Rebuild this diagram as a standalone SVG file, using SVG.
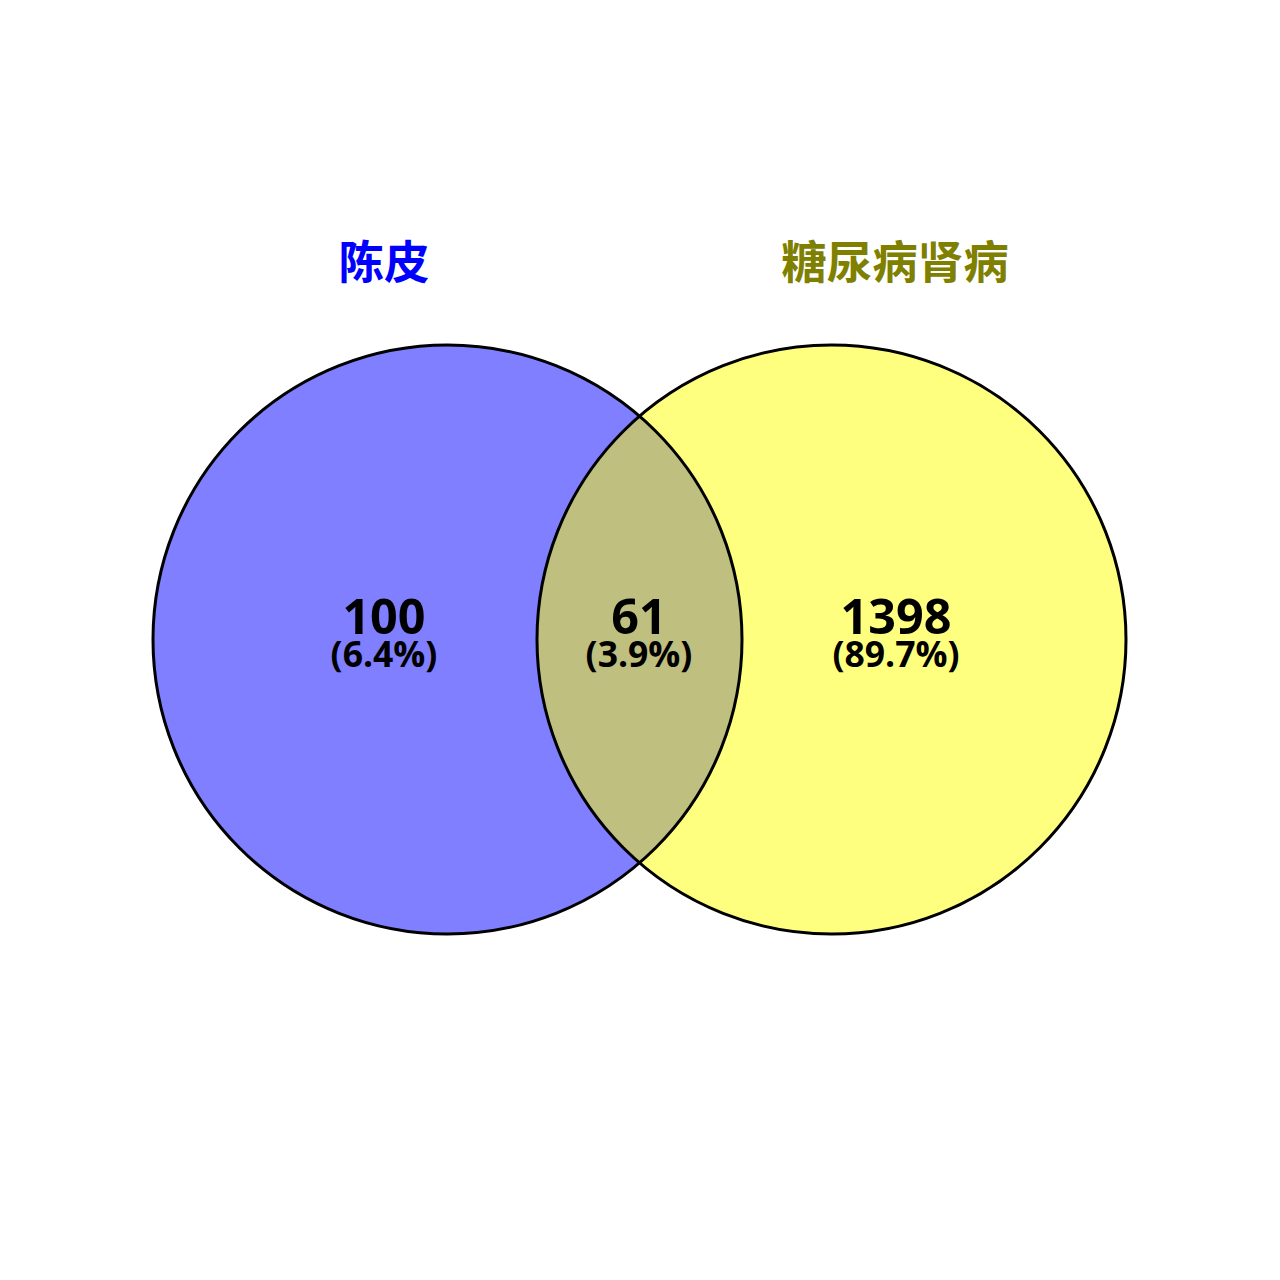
<svg xmlns="http://www.w3.org/2000/svg" width="1280" height="1280" viewBox="0 0 1280 1280">
<style>
.set{stroke:none}
.outline{fill:none;stroke:#000;stroke-width:3}
.title{font-family:"Noto Sans CJK SC","Noto Sans",sans-serif;font-weight:bold;font-size:45.5px;text-anchor:middle}
.num{font-family:"Open Sans","Noto Sans",sans-serif;font-weight:bold;font-size:48.5px;text-anchor:middle;fill:#000}
.pct{font-family:"Open Sans","Noto Sans",sans-serif;font-weight:bold;font-size:35.5px;text-anchor:middle;fill:#000}
</style>
<rect width="1280" height="1280" fill="#fff"/>
<g id="set-chenpi">
<circle class="set" cx="447.5" cy="639.5" r="294.5" fill="#0000FF" fill-opacity="0.5"/>
</g>
<g id="set-dkd">
<circle class="set" cx="831.5" cy="639.5" r="294.5" fill="#FFFF00" fill-opacity="0.5"/>
</g>
<g id="outlines">
<circle class="outline" cx="447.5" cy="639.5" r="294.5"/>
<circle class="outline" cx="831.5" cy="639.5" r="294.5"/>
</g>
<g id="labels">
<text class="title" x="384" y="279" fill="#0000FF">陈皮</text>
<text class="title" x="895" y="279" fill="#808000">糖尿病肾病</text>
</g>
<g id="region-left">
<text class="num" x="384" y="634">100</text>
<text class="pct" x="384" y="667">(6.4%)</text>
</g>
<g id="region-mid">
<text class="num" x="639" y="634">61</text>
<text class="pct" x="639" y="667">(3.9%)</text>
</g>
<g id="region-right">
<text class="num" x="896" y="634">1398</text>
<text class="pct" x="896" y="667">(89.7%)</text>
</g>
</svg>
